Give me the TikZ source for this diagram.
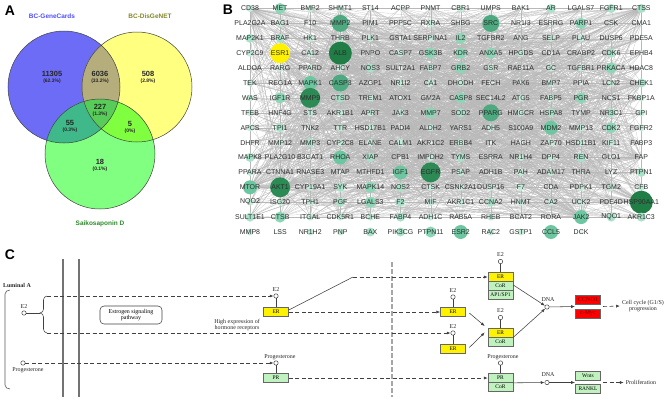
\documentclass[tikz,border=0pt]{standalone}
\usepackage{fontspec}
\setmainfont{Liberation Serif}
\setsansfont{Liberation Sans}
\usetikzlibrary{arrows.meta}
\pgfdeclarelayer{bg}
\pgfsetlayers{bg,main}
\definecolor{vblue}{HTML}{6C6CF7}
\definecolor{vyel}{HTML}{FFFF80}
\definecolor{vgrn}{HTML}{80FF80}
\definecolor{vby}{HTML}{B5AE7C}
\definecolor{vbg}{HTML}{3FB98A}
\definecolor{vyg}{HTML}{80FF40}
\definecolor{vall}{HTML}{58CC58}
\definecolor{vbluet}{HTML}{4F4FFF}
\definecolor{volive}{HTML}{85852A}
\definecolor{vgreent}{HTML}{2A8A2A}
\definecolor{g0}{HTML}{E3F5EC}
\definecolor{g1}{HTML}{C5ECDB}
\definecolor{g2}{HTML}{A9E2CA}
\definecolor{g3}{HTML}{8AD6B6}
\definecolor{g4}{HTML}{6CC7A1}
\definecolor{g5}{HTML}{4DAA80}
\definecolor{g6}{HTML}{2C8A55}
\definecolor{g7}{HTML}{1F7D45}
\definecolor{boxgreen}{HTML}{BFF2BF}
\definecolor{darkred}{HTML}{600000}
\tikzset{
  gc0/.style={fill=g0,radius=2bp},
  gc1/.style={fill=g1,radius=3.5bp},
  gc2/.style={fill=g2,radius=4.5bp},
  gc3/.style={fill=g3,radius=5.5bp},
  gc4/.style={fill=g4,radius=7bp},
  gc5/.style={fill=g5,radius=8.5bp},
  gc6/.style={fill=g6,radius=10bp},
  gc7/.style={fill=g7,radius=11.5bp},
  gcY/.style={fill=yellow,radius=10bp},
  glabel/.style={font=\sffamily\fontsize{7}{7}\selectfont, text=black!82, inner sep=0},
  edge/.style={draw=black!28, line width=0.18bp},
  panel/.style={font=\sffamily\bfseries\fontsize{14}{14}\selectfont, inner sep=0},
  vlab/.style={font=\sffamily\bfseries\fontsize{6.5}{7}\selectfont, inner sep=0},
  vnum/.style={font=\sffamily\bfseries\fontsize{7.5}{6}\selectfont, inner sep=0, align=center, text=black!85},
  ptxt/.style={font=\fontsize{6}{6.5}\selectfont, inner sep=0, text=black!85, align=center},
  sc/.style={circle, draw=black!75, fill=white, minimum size=4.4bp, inner sep=0, line width=0.5bp},
  bx/.style={rectangle, draw=black!60, line width=0.6bp, minimum width=25bp, minimum height=9bp, inner sep=0, font=\fontsize{5.5}{6}\selectfont},
  byel/.style={bx, fill=yellow},
  bgrn/.style={bx, fill=boxgreen},
  bred/.style={bx, fill=red, text=darkred, font=\fontsize{6}{6}\selectfont},
  dl/.style={draw=black!75, line width=0.55bp, dash pattern=on 4bp off 2.5bp},
  sl/.style={draw=black!75, line width=0.55bp},
  arr/.style={-{Latex[length=3.8bp,width=3bp]}},
}
\newcommand\genenode[4]{%
  \pgfmathsetmacro\gx{250+30.1*(#1-1)}%
  \pgfmathsetmacro\gy{8.5+14.9*(#2-1)}%
  \fill[gc#4] (\gx,\gy) circle;
  \node[glabel, alias=n-#2-#1] (#3) at (\gx,\gy) {#3};%
}
\newcommand\generow[2]{\foreach \g/\s [count=\c] in {#2} {\genenode{\c}{#1}{\g}{\s}}}
\def\cirA{(64,87) circle[radius=56bp]}
\def\cirB{(137,87) circle[radius=55bp]}
\def\cirC{(100,154) circle[radius=55bp]}
\begin{document}
\begin{tikzpicture}[x=1bp,y=-1bp]
\useasboundingbox (0,0) rectangle (669,398);
% ---------------- Panel A
\node[panel] (labA) at (10,11) {A};
\fill[vblue] \cirA;
\fill[vyel] \cirB;
\fill[vgrn] \cirC;
\begin{scope}\clip \cirA; \fill[vby] \cirB; \end{scope}
\begin{scope}\clip \cirA; \fill[vbg] \cirC; \end{scope}
\begin{scope}\clip \cirB; \fill[vyg] \cirC; \end{scope}
\begin{scope}\clip \cirA; \clip \cirB; \fill[vall] \cirC; \end{scope}
\draw[black!75, line width=0.5bp] \cirA \cirB \cirC;
\node[vlab, text=vbluet] (vlA) at (52,16) {BC-GeneCards};
\node[vlab, text=volive] (vlB) at (150,16) {BC-DisGeNET};
\node[vlab, text=vgreent] (vlC) at (100,224) {Saikosaponin D};
\node[vnum] (v1) at (52,77) {11305\\{\fontsize{5}{5}\selectfont(62.3\%)}};
\node[vnum] (v2) at (100,77) {6036\\{\fontsize{5}{5}\selectfont(33.2\%)}};
\node[vnum] (v3) at (148,77) {508\\{\fontsize{5}{5}\selectfont(2.8\%)}};
\node[vnum] (v4) at (100,110) {227\\{\fontsize{5}{5}\selectfont(1.3\%)}};
\node[vnum] (v5) at (70,126) {55\\{\fontsize{5}{5}\selectfont(0.3\%)}};
\node[vnum] (v6) at (130,127) {5\\{\fontsize{5}{5}\selectfont(0\%)}};
\node[vnum] (v7) at (100,165) {18\\{\fontsize{5}{5}\selectfont(0.1\%)}};
% ---------------- Panel B
\node[panel] (labB) at (228,10) {B};
\generow{1}{CD38/1,MET/3,BMP2/1,SHMT1/1,ST14/0,ACPP/0,PNMT/0,CBR1/1,UMPS/0,BAK1/0,AR/2,LGALS7/0,FGFR1/2,CTSS/2}
\generow{2}{PLA2G2A/0,BAG1/1,F10/0,MMP2/5,PIM1/0,PPP5C/0,RXRA/1,SHBG/0,SRC/5,NR1I3/0,ESRRG/0,PARP1/3,CSK/0,CMA1/0}
\generow{3}{MAP2K1/2,BRAF/2,HK1/1,THRB/1,PLK1/1,GSTA1/0,SERPINA1/1,IL2/3,TGFBR2/0,ANG/0,SELP/1,PLAU/1,DUSP6/0,PDE5A/0}
\generow{4}{CYP2C9/1,ESR1/Y,CA12/1,ALB/7,PNPO/0,CASP7/1,GSK3B/3,KDR/3,ANXA5/3,HPGDS/1,CD1A/0,CRABP2/0,CDK6/2,EPHB4/0}
\generow{5}{ALDOA/0,RARG/1,PPARD/1,AHCY/1,NOS3/2,SULT2A1/0,FABP7/1,GRB2/3,GSR/1,RAB11A/0,GC/1,TGFBR1/1,PRKACA/3,HDAC8/0}
\generow{6}{TEK/1,REG1A/0,MAPK1/4,CASP3/5,AZGP1/0,NR1I2/1,CA1/1,DHODH/1,FECH/0,PAK6/0,BMP7/1,PPIA/0,LCN2/1,CHEK1/2}
\generow{7}{WAS/1,IGF1R/3,MMP9/6,CTSD/2,TREM1/1,ATOX1/0,GM2A/0,CASP8/3,SEC14L2/0,ATG5/1,FABP5/1,PGR/3,NCS1/0,FKBP1A/1}
\generow{8}{TFEB/1,HNF4G/0,STS/1,AKR1B1/1,APRT/1,JAK3/1,MMP7/3,SOD2/2,PPARG/5,HMGCR/1,HSPA8/2,TYMP/0,NR3C1/2,GPI/1}
\generow{9}{APCS/1,TPI1/2,TNK2/0,TTR/1,HSD17B1/1,PADI4/0,ALDH2/1,YARS1/0,ADH5/1,S100A9/0,MDM2/4,MMP13/1,CDK2/3,FGFR2/1}
\generow{10}{DHFR/0,MMP12/1,MMP3/2,CYP2C8/1,ELANE/1,CALM1/1,AKR1C2/0,ERBB4/1,ITK/0,HAGH/0,ZAP70/1,HSD11B1/1,KIF11/1,FABP3/0}
\generow{11}{MAPK8/2,PLA2G10/0,B3GAT1/0,RHOA/4,XIAP/2,CPB1/0,IMPDH2/1,TYMS/2,ESRRA/0,NR1H4/1,DPP4/1,REN/2,GLO1/0,FAP/0}
\generow{12}{PPARA/1,CTNNA1/0,RNASE3/0,MTAP/0,MTHFD1/0,IGF1/4,EGFR/6,PSAP/1,ADH1B/0,PAH/1,ADAM17/1,THRA/0,LYZ/0,PTPN1/2}
\generow{13}{MTOR/4,AKT1/6,CYP19A1/1,SYK/2,MAPK14/3,NOS2/2,CTSK/1,CSNK2A1/1,DUSP16/1,F7/1,CDA/0,PDPK1/1,TGM2/1,CFB/1}
\generow{14}{NQO2/1,ISG20/1,TPH1/1,PGF/2,LGALS3/3,F2/2,MIF/1,AKR1C1/1,CCNA2/2,HNMT/1,CA2/1,UCK2/1,PDE4D/0,HSP90AA1/7}
\generow{15}{SULT1E1/2,CTSB/3,ITGAL/1,CDK5R1/1,BCHE/1,FABP4/2,ADH1C/1,RAB5A/0,RHEB/1,BCAT2/0,RORA/0,JAK2/4,NQO1/2,AKR1C3/2}
\generow{16}{MMP8/1,LSS/0,NR1H2/1,PNP/1,BAX/2,PIK3CG/2,PTPN11/3,ESR2/4,RAC2/1,GSTP1/1,CCL5/4,DCK/0}
\begin{pgfonlayer}{bg}
\pgfmathsetseed{12}
\foreach \k in {1,...,1300}{%
  \pgfmathrandominteger{\ra}{1}{15}\pgfmathrandominteger{\ca}{1}{14}%
  \pgfmathrandominteger{\rb}{1}{15}\pgfmathrandominteger{\cb}{1}{14}%
  \draw[edge] (n-\ra-\ca.center) -- (n-\rb-\cb.center);
}
\foreach \h in {ALB,AKT1,EGFR,HSP90AA1,SRC,CASP3,MMP9,ESR1,MMP2,PPARG,MAPK1,IGF1,MTOR,JAK2,CTSS,CHEK1,FAP,CD38}{%
  \foreach \k in {1,...,45}{%
    \pgfmathrandominteger{\rb}{1}{15}\pgfmathrandominteger{\cb}{1}{14}%
    \draw[edge] (\h.center) -- (n-\rb-\cb.center);
  }
}
\end{pgfonlayer}
% ---------------- Panel C
\node[panel] (labC) at (10,255) {C};
\draw[black!55, line width=1.3bp] (63,259) -- (63,397);
\draw[black!55, line width=1.3bp] (79,259) -- (79,397);
\draw[black!35, line width=2.6bp, dash pattern=on 5bp off 2bp] (392,262) -- (392,397);
\node[ptxt, font=\bfseries\fontsize{6}{6.5}\selectfont] (tLum) at (17,285) {Luminal A};
\draw[black!65, line width=0.6bp] (10,290) to[out=180,in=90] (5,294) -- (5,385) to[out=-90,in=180] (10,389);
% left E2 and brace
\node[sc] (cE2a) at (24,313) {};
\node[ptxt] (tE2a) at (24,307) {E2};
\coordinate (brTip) at (40,313);
\coordinate (brTop) at (47,296);
\coordinate (brBot) at (47,333);
\draw[sl] (cE2a) -- (brTip);
\draw[sl] (brTop) to[out=180,in=90] (43.5,300) -- (43.5,309) to[out=-90,in=0] (brTip)
  to[out=0,in=90] (43.5,317) -- (43.5,329) to[out=-90,in=180] (brBot);
\node[draw=black!75, line width=0.55bp, rounded corners=4bp, minimum width=62bp, minimum height=18bp, inner sep=0, align=center, font=\fontsize{6}{6.5}\selectfont] (cEsp) at (131,315) {Estrogen signaling\\pathway};
\node[ptxt] (tHigh) at (237,325) {High expression of\\hormone receptors};
% left ER
\node[byel] (cERL) at (276,312) {ER};
\node[sc] (cE2L) at (276,296) {};
\node[ptxt] (tE2L) at (276,289.5) {E2};
\draw[sl] (cE2L) -- (cERL);
\draw[dl,arr] (brTop) -- (cE2L);
% middle ER
\node[byel] (cERM) at (453,312) {ER};
\node[sc] (cE2M) at (453,297) {};
\node[ptxt] (tE2M) at (453,290.5) {E2};
\draw[sl] (cE2M) -- (cERM);
\draw[dl,arr] (cERL) -- (cERM);
% bottom ER
\node[byel] (cERB) at (453,348.5) {ER};
\node[sc] (cE2B) at (453,333) {};
\node[ptxt] (tE2B) at (453,326.5) {E2};
\draw[sl] (cE2B) -- (cERB);
\draw[dl,arr] (brBot) -- (cE2B);
% top complex
\node[byel] (cTER) at (500.5,277) {ER};
\node[bgrn] (cTCoR) at (500.5,286) {CoR};
\node[bgrn] (cTAP) at (500.5,295) {AP1/SP1};
\node[sc] (cE2T) at (500.5,261.5) {};
\node[ptxt] (tE2T) at (500.5,255) {E2};
\draw[sl] (cE2T) -- (cTER);
\coordinate (cBend) at (353,277);
\draw[sl] ([yshift=2bp]cERL.east) -- (cBend);
\draw[dl,arr] (cBend) -- (cTER);
% middle complex
\node[byel] (cMER) at (500.5,332.5) {ER};
\node[bgrn] (cMCoR) at (500.5,341.5) {CoR};
\node[sc] (cE2R) at (500.5,317.5) {};
\node[ptxt] (tE2R) at (500.5,311) {E2};
\draw[sl] (cE2R) -- (cMER);
\draw[sl,arr] ([xshift=3.5bp,yshift=-1bp]cERM.east) -- ([xshift=-3bp,yshift=6.5bp]cMER.west);
\draw[sl,arr] ([xshift=3.5bp,yshift=1bp]cERB.east) -- ([xshift=-3bp]cMER.west);
% DNA 1
\node[sc] (cDNA1) at (547,307) {};
\node[ptxt] (tDNA1) at (548,299.5) {DNA};
\draw[sl,arr] ([yshift=1bp]cTCoR.east) -- (cDNA1);
\draw[sl,arr] (cMER.south east) -- (cDNA1);
\node[bred] (cCCND1) at (588,299.5) {CCND1};
\node[bred] (cMyc) at (588,313.5) {c-Myc};
\coordinate (cGap1) at (575,306.5);
\draw[sl,arr] (cDNA1) -- (cGap1);
\node[ptxt] (tCell) at (643,306) {Cell cycle (G1/S)\\progression};
\coordinate (cOut1) at (603,306.5);
\draw[dl,arr] (cOut1) -- ([xshift=-2bp]tCell.west);
% progesterone left
\node[sc] (cPg0) at (23,363) {};
\node[ptxt] (tPg0) at (28,370) {Progesterone};
\node[bgrn] (cPRL) at (276,378) {PR};
\node[sc] (cPgL) at (276,363) {};
\node[ptxt] (tPgL) at (280,357) {Progesterone};
\draw[sl] (cPgL) -- (cPRL);
\draw[dl,arr] (cPg0) -- (cPgL);
% progesterone right
\node[bgrn] (cPRR) at (500.5,378) {PR};
\node[bgrn] (cPCoR) at (500.5,387) {CoR};
\node[sc] (cPgR) at (500.5,363) {};
\node[ptxt] (tPgR) at (503,357) {Progesterone};
\draw[sl] (cPgR) -- (cPRR);
\draw[dl,arr] (cPRL) -- (cPRR);
\node[sc] (cDNA2) at (547,382.5) {};
\node[ptxt] (tDNA2) at (548,375) {DNA};
\draw[sl,arr] (cPRR.south east) -- (cDNA2);
\node[bgrn] (cWnt) at (588,376) {Wnts};
\node[bgrn] (cRANKL) at (588,388.5) {RANKL};
\coordinate (cGap2) at (575,382.5);
\draw[sl,arr] (cDNA2) -- (cGap2);
\node[ptxt] (tProl) at (641,382.5) {Proliferation};
\coordinate (cOut2) at (603,382.5);
\draw[dl,arr] (cOut2) -- ([xshift=-2bp]tProl.west);
\end{tikzpicture}
\end{document}
